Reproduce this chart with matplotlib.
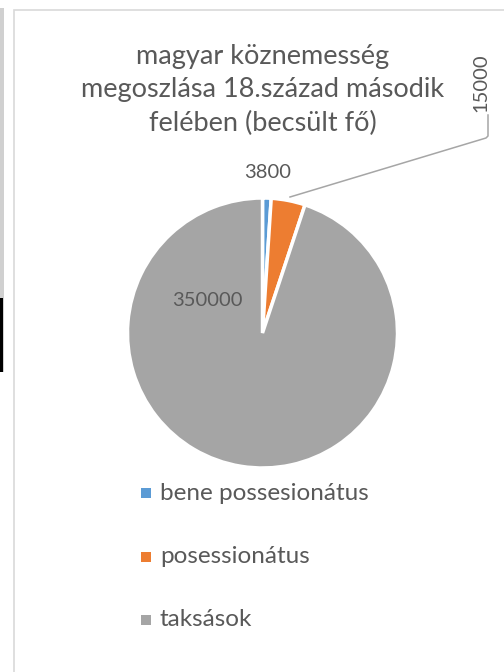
import numpy as np
import matplotlib
matplotlib.use('Agg')
import matplotlib.pyplot as plt
from matplotlib.patches import Rectangle
from matplotlib.lines import Line2D

plt.rcParams['font.family'] = ['Lato', 'DejaVu Sans']

categories = ['bene possesionátus', 'posessionátus', 'taksások']
values = [3800, 15000, 350000]
labels = ['3800', '15000', '350000']
colors = ['#5B9BD5', '#ED7D31', '#A5A5A5']
title = 'magyar köznemesség\nmegoszlása 18.század második\nfelében (becsült fő)'
txt = '#595959'

W, H = 504, 672
fig = plt.figure(figsize=(W / 100, H / 100), dpi=100)

def fx(x):
    return x / W

def fy(y):
    return 1 - y / H

# chart frame and left page edge
fig.patches.append(Rectangle((fx(14), fy(700)), fx(520), fy(10) - fy(700), transform=fig.transFigure,
                             fill=False, edgecolor='#D9D9D9', linewidth=1.2))
fig.patches.append(Rectangle((0, fy(372)), fx(4), fy(8) - fy(372), transform=fig.transFigure,
                             facecolor='#D0D0D0', edgecolor='none'))
fig.patches.append(Rectangle((0, fy(372)), fx(2.5), fy(298) - fy(372), transform=fig.transFigure,
                             facecolor='#000000', edgecolor='none'))

# pie
cx, cy, r = 262.5, 333, 135
ax = fig.add_axes([fx(cx - r), fy(cy + r), fx(2 * r), (2 * r) / H])
wedges, _ = ax.pie(values, colors=colors, startangle=90, counterclock=False,
                   wedgeprops=dict(edgecolor='white', linewidth=2.5))
ax.set_xlim(-1, 1)
ax.set_ylim(-1, 1)
ax.set_aspect('equal')
ax.axis('off')

fig.text(fx(263), fy(90), title, ha='center', va='center', fontsize=19.5,
         color=txt, linespacing=1.42)

# data labels
fig.text(fx(268), fy(173), labels[0], ha='center', va='center', fontsize=14.5, color=txt)
fig.text(fx(207), fy(300), labels[2], ha='center', va='center', fontsize=14.5, color=txt)
fig.text(fx(481), fy(83), labels[1], ha='center', va='center', fontsize=14.5, color=txt,
         rotation=90)
fig.add_artist(Line2D([fx(290), fx(486), fx(488), fx(488)],
                      [fy(197), fy(138), fy(136), fy(115)],
                      transform=fig.transFigure, color='#A6A6A6', linewidth=1.1))

# legend
for i, name in enumerate(categories):
    yy = 493 + i * 63.5
    fig.patches.append(Rectangle((fx(141), fy(yy + 5)), fx(10), fy(yy - 5) - fy(yy + 5),
                                 transform=fig.transFigure, facecolor=colors[i], edgecolor='none'))
    fig.text(fx(160), fy(yy), name, ha='left', va='center', fontsize=17.5, color=txt)

fig.savefig('out.png', dpi=100)
